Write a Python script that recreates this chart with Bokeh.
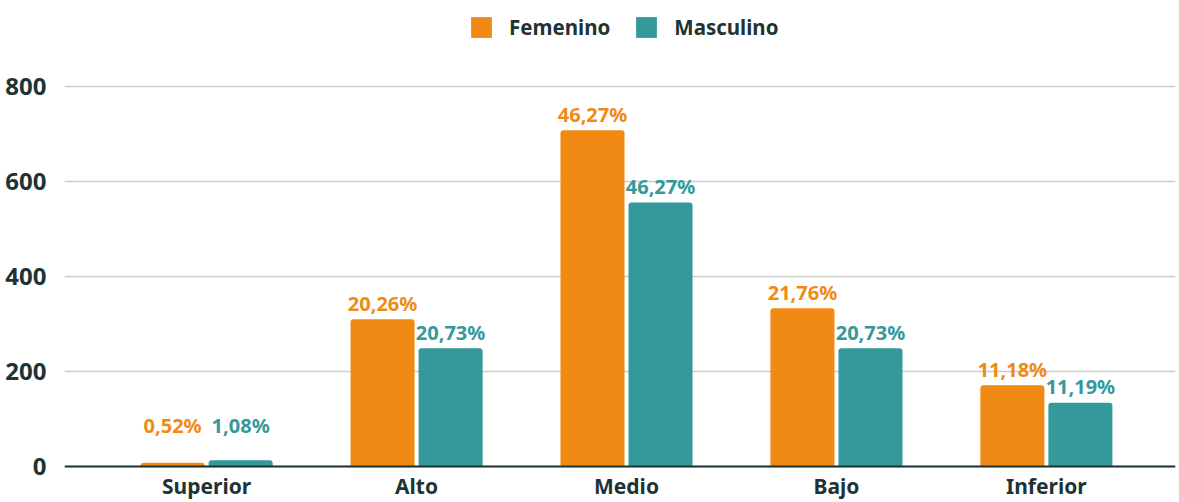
from bokeh.plotting import figure
from bokeh.models import ColumnDataSource, FactorRange, FixedTicker, Legend, LegendItem, LabelSet, Span
from bokeh.transform import dodge
from bokeh.core.properties import value
from bokeh.embed import file_html
from bokeh.resources import INLINE

categories = ["Superior", "Alto", "Medio", "Bajo", "Inferior"]
femenino = [8, 310, 708, 333, 171]
masculino = [13, 249, 556, 249, 134]
fem_labels = ["0,52%", "20,26%", "46,27%", "21,76%", "11,18%"]
masc_labels = ["1,08%", "20,73%", "46,27%", "20,73%", "11,19%"]
y_ticks = [0, 200, 400, 600, 800]

ORANGE = "#F08A14"
TEAL = "#33999A"
DARK = "#1D3334"
FONT = "Noto Sans"

min_label = 53
src = ColumnDataSource(dict(
    cat=categories, fem=femenino, masc=masculino,
    fem_lab=fem_labels, masc_lab=masc_labels,
    fem_ly=[max(v, min_label) for v in femenino],
    masc_ly=[max(v, min_label) for v in masculino],
    zero=[0] * len(categories),
))

p = figure(width=1176, height=502, output_backend="svg", toolbar_location=None,
           x_range=FactorRange(factors=categories, range_padding=0.146, range_padding_units="absolute"),
           y_range=(-75.8, 981), min_border_left=64, min_border_right=1, min_border_top=0,
           min_border_bottom=0)
p.outline_line_color = None
p.background_fill_color = "white"
p.border_fill_color = "white"

shift = 0.031
off = 0.162
bw = 0.305
r1 = p.vbar(x=dodge("cat", shift - off, range=p.x_range), top="fem", bottom=0, width=bw, source=src,
            fill_color=ORANGE, line_color=None, border_radius=(3, 3, 0, 0))
r2 = p.vbar(x=dodge("cat", shift + off, range=p.x_range), top="masc", bottom=0, width=bw, source=src,
            fill_color=TEAL, line_color=None, border_radius=(3, 3, 0, 0))

p.text(x=dodge("cat", shift - off, range=p.x_range), y="fem_ly", text="fem_lab", source=src,
       text_align="center", text_baseline="middle", y_offset=-16,
       text_font=value(FONT), text_font_style="bold", text_font_size="20px", text_color=ORANGE)
p.text(x=dodge("cat", shift + off, range=p.x_range), y="masc_ly", text="masc_lab", source=src,
       text_align="center", text_baseline="middle", y_offset=-16,
       text_font=value(FONT), text_font_style="bold", text_font_size="20px", text_color=TEAL)

cat_labels = LabelSet(x=dodge("cat", shift, range=p.x_range), y="zero", text="cat", source=src,
                      text_align="center", text_baseline="alphabetic", y_offset=-28,
                      text_font=value(FONT), text_font_style="bold", text_font_size="21px",
                      text_color=DARK)
p.add_layout(cat_labels)

p.add_layout(Span(location=0, dimension="width", line_color=DARK, line_width=2))

p.yaxis.ticker = FixedTicker(ticks=y_ticks)
p.yaxis.axis_line_color = None
p.yaxis.major_tick_line_color = None
p.yaxis.minor_tick_line_color = None
p.yaxis.major_label_standoff = 12
p.yaxis.major_label_text_font = FONT
p.yaxis.major_label_text_font_style = "bold"
p.yaxis.major_label_text_font_size = "24px"
p.yaxis.major_label_text_color = DARK

p.xaxis.visible = False

p.xgrid.grid_line_color = None
p.ygrid.grid_line_color = "#cccccc"
p.ygrid.grid_line_width = 1.5

legend = Legend(items=[LegendItem(label="Femenino", renderers=[r1]),
                       LegendItem(label="Masculino", renderers=[r2])],
                orientation="horizontal", location=(404, 461),
                label_text_font=FONT, label_text_font_style="bold",
                label_text_font_size="20.5px", label_text_color=DARK,
                glyph_width=26, glyph_height=26, label_standoff=15, spacing=23,
                padding=0, margin=0, border_line_color=None, background_fill_alpha=0)
p.add_layout(legend)

open("out.html", "w").write(file_html(p, INLINE))
